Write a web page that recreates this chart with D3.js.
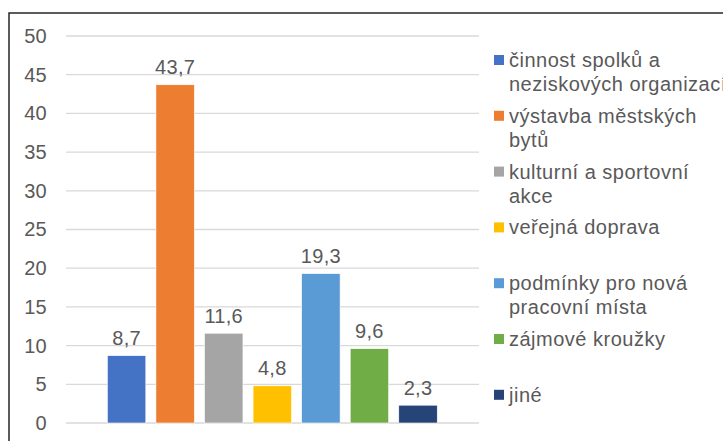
<!DOCTYPE html>
<html><head><meta charset="utf-8">
<script src="https://cdn.jsdelivr.net/npm/d3@7"></script>
<style>
html,body{margin:0;padding:0;background:#fff;overflow:hidden;}
text{font-family:"Liberation Sans",Arial,sans-serif;fill:#595959;}
</style></head>
<body>
<svg id="chart" width="723" height="441"></svg>
<script>
const series = ["činnost spolků a neziskových organizací","výstavba městských bytů","kulturní a sportovní akce","veřejná doprava","podmínky pro nová pracovní místa","zájmové kroužky","jiné"];
const legendLines = [["činnost spolků a","neziskových organizací"],["výstavba městských","bytů"],["kulturní a sportovní","akce"],["veřejná doprava"],["podmínky pro nová","pracovní místa"],["zájmové kroužky"],["jiné"]];
const values = [8.7,43.7,11.6,4.8,19.3,9.6,2.3];
const colors = ["#4472C4","#ED7D31","#A5A5A5","#FFC000","#5B9BD5","#70AD47","#264478"];
const yTicks = [0,5,10,15,20,25,30,35,40,45,50];

const svg = d3.select("#chart");
const fmt = v => String(v).replace(".", ",");

// outer border
svg.append("rect").attr("x",9).attr("y",13).attr("width",760).attr("height",480)
  .attr("fill","none").attr("stroke","#262626").attr("stroke-width",1.5);

const y = d3.scaleLinear().domain([0,50]).range([423,36]);
const x = d3.scaleBand().domain(series).range([102.3,442.3]).paddingInner(0.208).paddingOuter(0.104);

// gridlines
svg.append("g").selectAll("line").data(yTicks).join("line")
  .attr("x1",66).attr("x2",479)
  .attr("y1",d=>y(d)).attr("y2",d=>y(d))
  .attr("stroke","#d9d9d9").attr("stroke-width",1.3);

// y axis labels
const yAxis = d3.axisLeft(y).tickValues(yTicks).tickSize(0).tickPadding(0).tickFormat(d=>d);
const ga = svg.append("g").attr("transform","translate(47,0)").call(yAxis);
ga.select(".domain").remove();
ga.attr("font-family",null).attr("font-size",null);
ga.selectAll("text").attr("font-size","20px").attr("letter-spacing","0.3px").attr("fill","#595959");

// bars
svg.append("g").selectAll("rect").data(values).join("rect")
  .attr("x",(d,i)=>x(series[i])).attr("width",x.bandwidth())
  .attr("y",d=>y(d)).attr("height",d=>y(0)-y(d))
  .attr("fill",(d,i)=>colors[i]).attr("stroke","#fff").attr("stroke-width",0.6);

// data labels
svg.append("g").selectAll("text").data(values).join("text")
  .attr("x",(d,i)=>x(series[i])+x.bandwidth()/2)
  .attr("y",d=>y(d)-10.5)
  .attr("text-anchor","middle").attr("font-size","20px").attr("letter-spacing","0.3px")
  .text(d=>fmt(d));

// legend
const lg = svg.append("g");
const step = 55.8, top0 = 60;
legendLines.forEach((lines,i)=>{
  const cy = top0 + i*step;
  lg.append("rect").attr("x",494).attr("y",cy-5).attr("width",10).attr("height",10).attr("fill",colors[i]);
  const t = lg.append("text").attr("x",509).attr("y",cy+7).attr("font-size","20px").attr("letter-spacing","0.5px");
  lines.forEach((ln,j)=>{
    t.append("tspan").attr("x",509).attr("dy", j===0?0:24).text(ln);
  });
});
</script>
</body></html>
